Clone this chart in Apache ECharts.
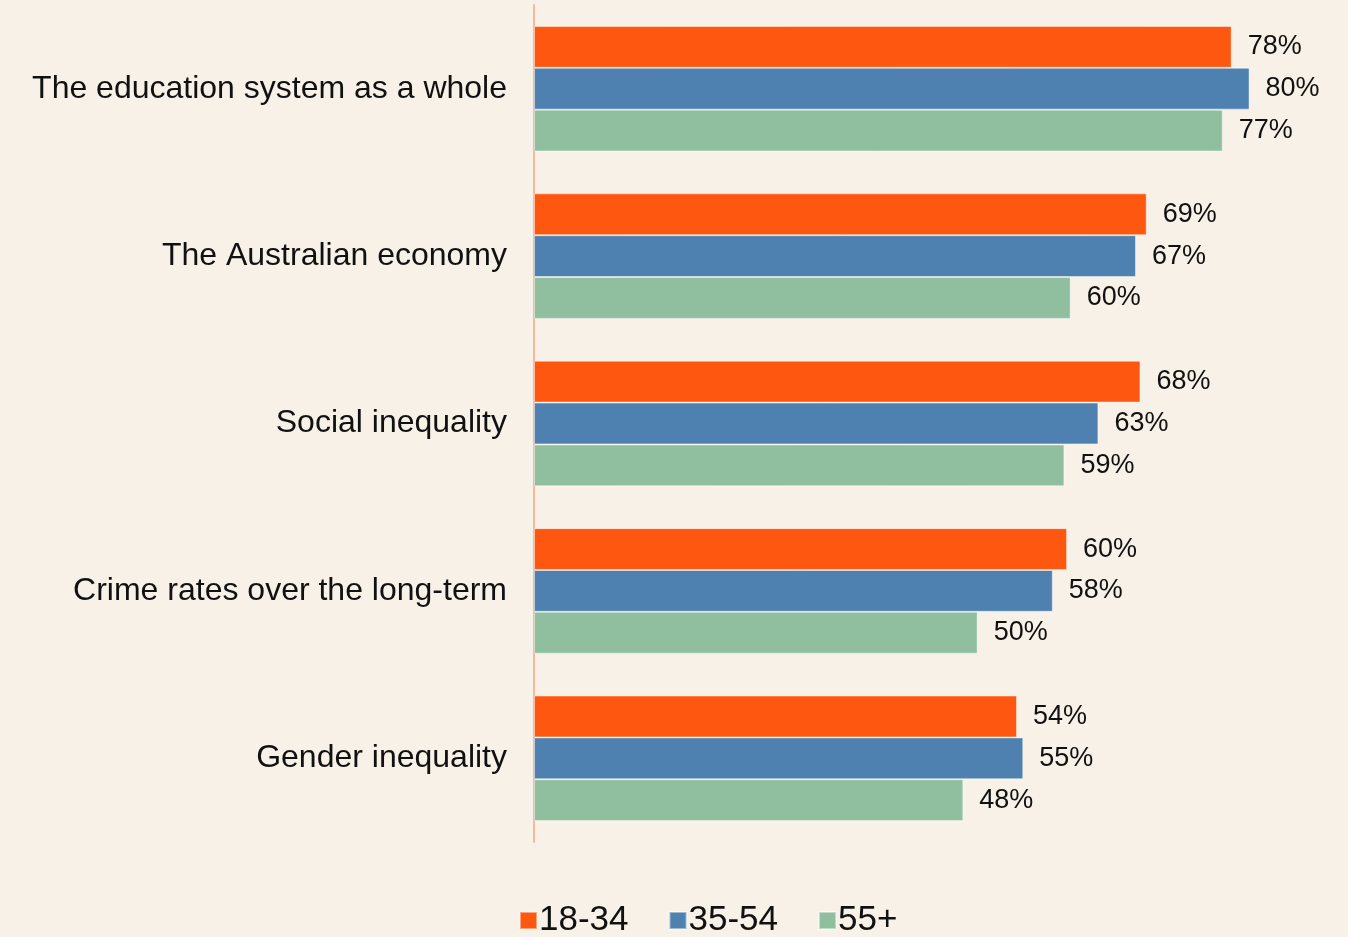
<!DOCTYPE html>
<html>
<head>
<meta charset="utf-8">
<script src="https://cdn.jsdelivr.net/npm/echarts@6/dist/echarts.min.js"></script>
<style>
  html, body { margin: 0; padding: 0; background: #f8f1e7; }
  #chart { width: 1348px; height: 937px; }
</style>
</head>
<body>
<div id="chart"></div>
<script>
const categories = [
  'The education system as a whole',
  'The Australian economy',
  'Social inequality',
  'Crime rates over the long-term',
  'Gender inequality'
]
// bar lengths; labels show them rounded
const age18to34 = [78, 68.5, 67.8, 59.6, 54]
const age35to54 = [80, 67.3, 63.1, 58, 54.7]
const age55plus = [77, 60, 59.3, 49.6, 48]
const seriesNames = ['18-34', '35-54', '55+']
const colors = ['#fe5810', '#4f81b0', '#8fbf9e']

const chart = echarts.init(document.getElementById('chart'))

const makeSeries = (name, data, color) => ({
  name: name,
  type: 'bar',
  data: data,
  barGap: '0%',
  barCategoryGap: '25%',
  itemStyle: {
    color: color,
    borderColor: 'rgba(255,255,255,0.45)',
    borderWidth: 1
  },
  label: {
    show: true,
    position: 'right',
    distance: 16,
    formatter: (p) => Math.round(p.value) + '%',
    color: '#111',
    fontSize: 27,
    fontFamily: 'Liberation Sans'
  }
})

const option = {
  backgroundColor: '#f8f1e7',
  animation: false,
  color: colors,
  textStyle: { fontFamily: 'Liberation Sans' },
  grid: {
    left: 534,
    right: 9,
    top: 5,
    bottom: 95
  },
  legend: {
    top: 903,
    left: 519,
    padding: 0,
    icon: 'rect',
    itemWidth: 17,
    itemHeight: 17,
    itemGap: 40,
    textStyle: {
      color: '#111',
      fontSize: 35,
      padding: [0, 0, 0, -3]
    },
    data: seriesNames
  },
  xAxis: {
    type: 'value',
    min: 0,
    max: 90,
    show: false
  },
  yAxis: {
    type: 'category',
    inverse: true,
    data: categories,
    axisLine: { show: true, lineStyle: { color: '#f8b89a', width: 2 } },
    axisTick: { show: false },
    axisLabel: {
      color: '#111',
      fontSize: 32,
      margin: 27,
      lineHeight: 32,
      padding: [0, 0, 6, 0]
    }
  },
  series: [
    makeSeries(seriesNames[0], age18to34, colors[0]),
    makeSeries(seriesNames[1], age35to54, colors[1]),
    makeSeries(seriesNames[2], age55plus, colors[2])
  ]
}

option && chart.setOption(option)
</script>
</body>
</html>
